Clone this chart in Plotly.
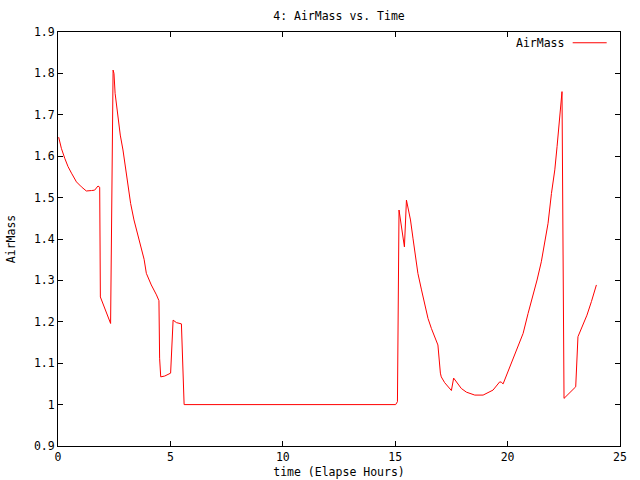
import plotly.graph_objects as go

time_hours = [0.03, 0.15, 0.30, 0.445, 0.60, 0.82, 1.04, 1.26, 1.49, 1.63, 1.78, 1.855, 1.885,
              2.34, 2.45, 2.49, 2.54, 2.67, 2.77, 2.89, 3.00, 3.11, 3.23, 3.38, 3.53, 3.68,
              3.83, 3.93, 4.15, 4.38, 4.49, 4.52, 4.57, 4.75, 5.01, 5.12, 5.27, 5.49, 5.61,
              15.02, 15.10, 15.17, 15.41, 15.50, 15.68, 15.79, 15.91, 16.01, 16.17, 16.31,
              16.46, 16.61, 16.76, 16.90, 17.01, 17.05, 17.20, 17.35, 17.50, 17.60, 17.75,
              17.94, 18.17, 18.54, 18.91, 19.13, 19.35, 19.65, 19.72, 19.80, 20.02, 20.24,
              20.46, 20.69, 20.91, 21.13, 21.31, 21.50, 21.65, 21.80, 21.95, 22.10, 22.20,
              22.32, 22.39, 22.42, 22.51, 23.03, 23.13, 23.35, 23.53, 23.73, 23.83, 23.95]
airmass = [1.646, 1.619, 1.595, 1.575, 1.559, 1.538, 1.526, 1.516, 1.517, 1.518, 1.528, 1.525, 1.260,
           1.196, 1.808, 1.800, 1.752, 1.695, 1.651, 1.615, 1.575, 1.538, 1.486, 1.446, 1.414, 1.381,
           1.351, 1.317, 1.289, 1.265, 1.251, 1.112, 1.067, 1.069, 1.076, 1.204, 1.198, 1.195, 1.000,
           1.000, 1.007, 1.470, 1.381, 1.494, 1.446, 1.402, 1.353, 1.317, 1.277, 1.241,
           1.208, 1.184, 1.164, 1.144, 1.076, 1.067, 1.053, 1.043, 1.034, 1.064, 1.054,
           1.039, 1.030, 1.023, 1.023, 1.029, 1.035, 1.055, 1.054, 1.050, 1.080, 1.108,
           1.140, 1.172, 1.220, 1.261, 1.301, 1.345, 1.390, 1.438, 1.510, 1.567, 1.623,
           1.687, 1.732, 1.756, 1.015, 1.043, 1.164, 1.192, 1.216, 1.249, 1.269, 1.289]

x_ticks = [0, 5, 10, 15, 20, 25]
y_tick_vals = [0.9, 1.0, 1.1, 1.2, 1.3, 1.4, 1.5, 1.6, 1.7, 1.8, 1.9]
y_tick_text = ["0.9", "1", "1.1", "1.2", "1.3", "1.4", "1.5", "1.6", "1.7", "1.8", "1.9"]

FONT = "DejaVu Sans Mono"
fig = go.Figure()
fig.add_trace(go.Scatter(x=time_hours, y=airmass, mode="lines", name="AirMass",
                         line=dict(color="#ff0000", width=1), showlegend=False))

axis_common = dict(showline=True, linecolor="black", linewidth=1, mirror="allticks",
                   ticks="inside", ticklen=5, tickcolor="black", tickwidth=1,
                   showgrid=False, zeroline=False, automargin=False,
                   tickfont=dict(family=FONT, size=11.5, color="black"))

fig.update_layout(
    width=640, height=480,
    margin=dict(l=58, r=20, t=32, b=34, autoexpand=False),
    paper_bgcolor="white", plot_bgcolor="white",
    font=dict(family=FONT, size=11.5, color="black"),
    title=dict(text="4: AirMass vs. Time", x=0.5, xref="paper", y=1 - 16 / 480,
               yref="container", yanchor="middle", xanchor="center",
               font=dict(family=FONT, size=11.5, color="black")),
    xaxis=dict(range=[0, 25], tickvals=x_ticks,
               title=dict(text="time (Elapse Hours)", standoff=5,
                          font=dict(family=FONT, size=11.5, color="black")),
               **axis_common),
    yaxis=dict(range=[0.9, 1.9], tickvals=y_tick_vals, ticktext=y_tick_text,
               title=dict(text="AirMass", standoff=15,
                          font=dict(family=FONT, size=11.5, color="black")),
               **axis_common),
)

# gnuplot-style key: text then line sample
fig.add_annotation(x=0.9034, y=0.974, xref="paper", yref="paper", text="AirMass",
                   showarrow=False, xanchor="right", yanchor="middle",
                   font=dict(family=FONT, size=11.5, color="black"))
fig.add_shape(type="line", xref="paper", yref="paper", x0=0.9158, x1=0.9763,
              y0=0.974, y1=0.974, line=dict(color="#ff0000", width=1))

fig.write_html("out.html", config={"displayModeBar": False},
               post_script="document.body.style.margin='0px';document.body.style.overflow='hidden';")
